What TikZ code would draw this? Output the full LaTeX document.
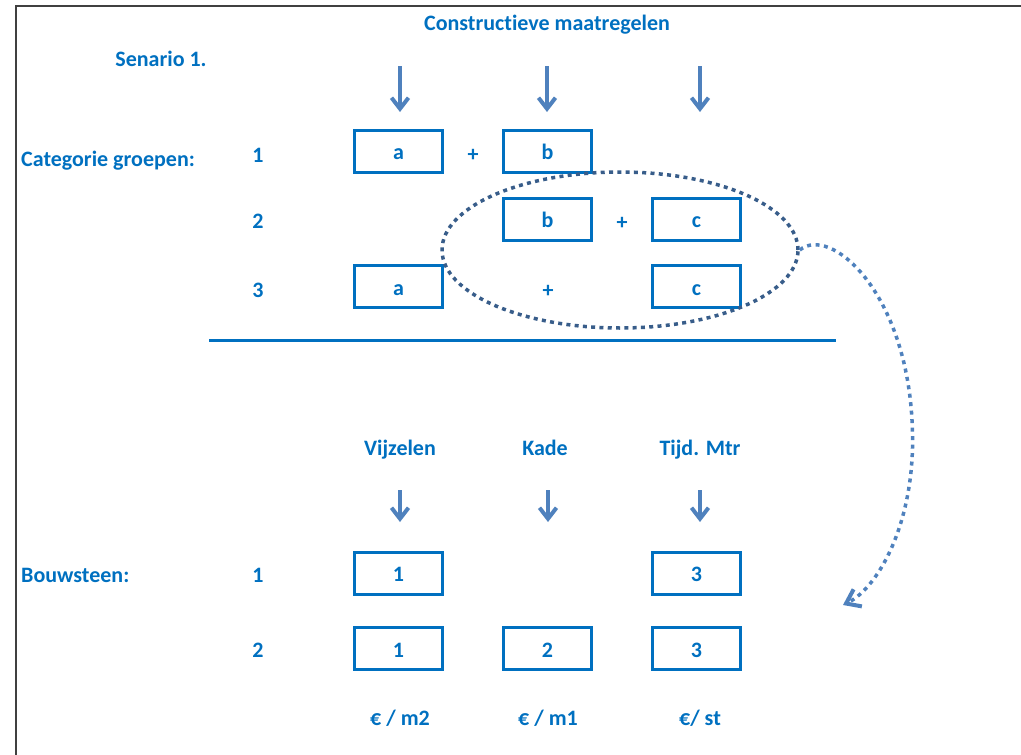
\documentclass[tikz,border=0pt]{standalone}
\usepackage{fontspec}
\setmainfont{Carlito}[Ligatures=NoCommon]
\usetikzlibrary{arrows.meta,shapes.geometric}
\definecolor{txtblue}{HTML}{0070C0}
\definecolor{arrblue}{HTML}{4F81BD}
\definecolor{ringblue}{HTML}{385D8A}
\definecolor{framegray}{HTML}{404040}
\tikzset{
  lbl/.style={font=\fontsize{22}{26}\selectfont\bfseries, text=txtblue, inner sep=0pt,
     text height=14pt, text depth=0pt},
  cell/.style={lbl, text height=17pt, draw=txtblue, line width=3pt,
     minimum width=88pt, minimum height=42pt},
  downarrow/.style={draw=arrblue, line width=4pt, -{Straight Barb[length=11pt,width=17pt]}},
  rule/.style={draw=txtblue, line width=3pt},
  ring/.style={ellipse, draw=ringblue, line width=3.5pt, dash pattern=on 4pt off 4.3pt, inner sep=0pt},
  curvearrow/.style={draw=arrblue, line width=3.5pt, dash pattern=on 4pt off 4.5pt,
     -{Straight Barb[length=13pt,width=19pt,line width=4pt]}}
}
\begin{document}
\begin{tikzpicture}[x=1pt, y=-1pt]
\useasboundingbox (0,0) rectangle (1021,755);
% page frame
\draw[framegray, line width=1.5pt] (16,755) -- (16,6) -- (1021,6);

% headings
\node[lbl] (title) at (547,23) {Constructieve maatregelen};
\node[lbl] (scen) at (161,59) {Senario 1.};
\node[lbl, anchor=west] (catg) at (21,159) {Categorie groepen:};

% top arrows
\coordinate (ta0) at (400,66);  \coordinate (ta1) at (400,112);
\coordinate (tb0) at (547,66);  \coordinate (tb1) at (547,112);
\coordinate (tc0) at (700,66);  \coordinate (tc1) at (700,112);
\draw[downarrow] (ta0) -- (ta1);
\draw[downarrow] (tb0) -- (tb1);
\draw[downarrow] (tc0) -- (tc1);

% category groups
\node[lbl] (r1) at (258,155) {1};
\node[lbl] (r2) at (258,221) {2};
\node[lbl] (r3) at (258,290) {3};

\node[cell] (a1) at (398.5,151) {a};
\node[lbl]  (p1) at (473,154) {+};
\node[cell] (b1) at (547.5,151) {b};

\node[cell] (b2) at (547.5,219) {b};
\node[lbl]  (p2) at (622,222) {+};
\node[cell] (c2) at (696.5,219) {c};

\node[cell] (a3) at (398.5,286.5) {a};
\node[lbl]  (p3) at (548,290) {+};
\node[cell] (c3) at (696.5,286.5) {c};

% grouping ring and its pointer
\node[ring, minimum width=356pt, minimum height=156pt] (grp) at (620,250) {};
\coordinate (bt) at (843,605);
\draw[curvearrow] (grp.east) .. controls (830,225) and (905,290) .. (912,420)
   .. controls (918,520) and (878,588) .. (bt);

% separator
\coordinate (s0) at (209,340); \coordinate (s1) at (836,340);
\draw[rule] (s0) -- (s1);

% building blocks
\node[lbl] (hv) at (400,448) {Vijzelen};
\node[lbl] (hk) at (545,448) {Kade};
\node[lbl] (ht) at (700,448) {Tijd. Mtr};

\coordinate (ba0) at (400,490);  \coordinate (ba1) at (400,522);
\coordinate (bb0) at (548,490);  \coordinate (bb1) at (548,522);
\coordinate (bc0) at (700,490);  \coordinate (bc1) at (700,522);
\draw[downarrow] (ba0) -- (ba1);
\draw[downarrow] (bb0) -- (bb1);
\draw[downarrow] (bc0) -- (bc1);

\node[lbl, anchor=west] (bouw) at (21,575) {Bouwsteen:};
\node[lbl] (q1) at (258,575) {1};
\node[lbl] (q2) at (258,650) {2};

\node[cell] (v1) at (398.5,573) {1};
\node[cell] (t1) at (696.5,573) {3};
\node[cell] (v2) at (398.5,648.5) {1};
\node[cell] (k2) at (547.5,648.5) {2};
\node[cell] (t2) at (696.5,648.5) {3};

% units
\node[lbl] (uv) at (400,718) {€ / m2};
\node[lbl] (uk) at (548,718) {€ / m1};
\node[lbl] (ut) at (700,718) {€/ st};
\end{tikzpicture}
\end{document}
